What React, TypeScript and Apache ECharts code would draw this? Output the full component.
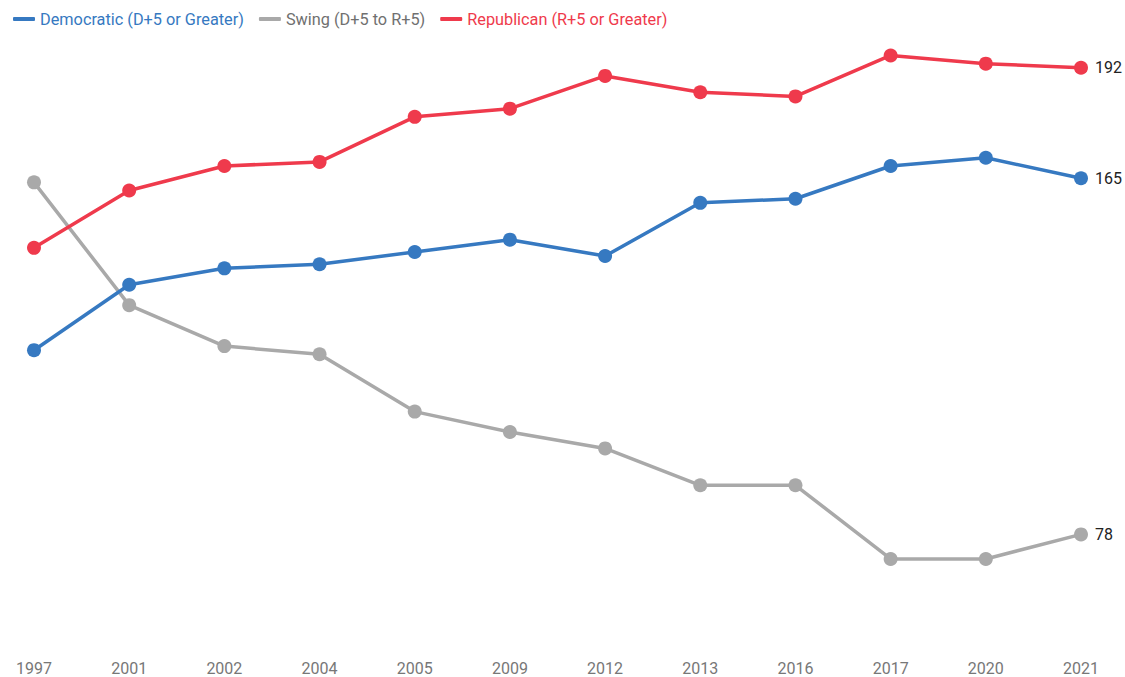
import React, { useEffect, useRef } from "react";
import * as echarts from "echarts";

const years = ["1997", "2001", "2002", "2004", "2005", "2009", "2012", "2013", "2016", "2017", "2020", "2021"];
const democratic = [123, 139, 143, 144, 147, 150, 146, 159, 160, 168, 170, 165];
const swing = [164, 134, 124, 122, 108, 103, 99, 90, 90, 72, 72, 78];
const republican = [148, 162, 168, 169, 180, 182, 190, 186, 185, 195, 193, 192];

const names = ["Democratic (D+5 or Greater)", "Swing (D+5 to R+5)", "Republican (R+5 or Greater)"];
const colors = ["#3679c1", "#a9a9a9", "#ef3a4c"];
const legendTextColors = ["#3679c1", "#707070", "#ef3a4c"];

export default function App() {
  const ref = useRef<HTMLDivElement>(null);
  useEffect(() => {
    document.body.style.margin = "0";
    const chart = echarts.init(ref.current!, null, { renderer: "svg" });
    const mk = (i: number, data: number[], z: number) => ({
      name: names[i],
      type: "line",
      data,
      z,
      symbol: "circle",
      symbolSize: 14,
      lineStyle: { width: 3.5, color: colors[i] },
      itemStyle: { color: colors[i] },
      label: {
        show: true,
        position: "right",
        distance: 7,
        color: "#222",
        fontSize: 16,
        fontFamily: "Roboto",
        formatter: (p: any) => (p.dataIndex === data.length - 1 ? String(p.value) : ""),
      },
    });
    chart.setOption({
      animation: false,
      legend: {
        data: names.map((n, i) => ({ name: n, textStyle: { color: legendTextColors[i] } })),
        left: 8,
        top: 6,
        itemWidth: 22,
        itemHeight: 4,
        itemGap: 15,
        icon: "roundRect",
        textStyle: { fontSize: 16.3, fontFamily: "Roboto" },
      },
      grid: { left: 34, right: 44, top: 35, bottom: 28 },
      xAxis: {
        type: "category",
        data: years,
        boundaryGap: false,
        axisLine: { show: false },
        axisTick: { show: false },
        axisLabel: { color: "#777", fontSize: 16, fontFamily: "Roboto", margin: 11 },
      },
      yAxis: {
        type: "value",
        min: 50,
        max: 200,
        show: false,
        splitLine: { show: false },
      },
      series: [mk(1, swing, 2), mk(0, democratic, 3), mk(2, republican, 4)],
    });
    return () => chart.dispose();
  }, []);
  return <div ref={ref} style={{ position: "absolute", left: 0, top: 0, width: 1125, height: 677 }} />;
}
